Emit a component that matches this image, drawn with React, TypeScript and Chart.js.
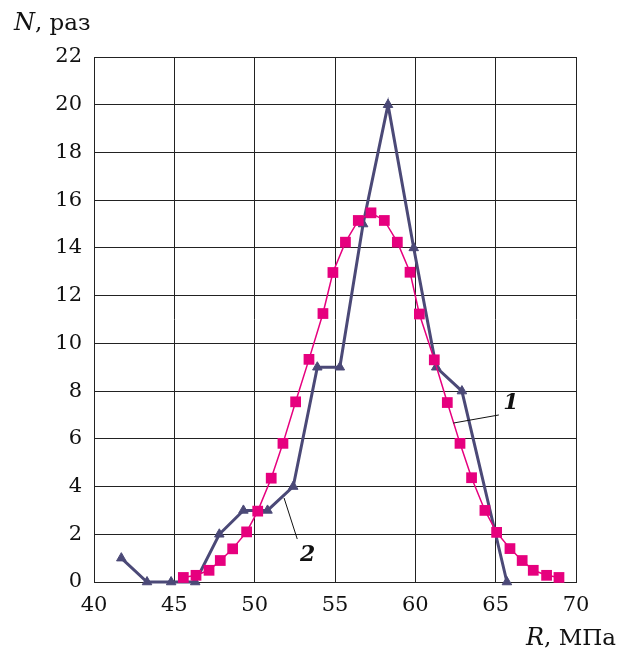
import React, { useEffect, useRef } from "react";
import { Chart, registerables } from "chart.js";

Chart.register(...registerables);

// Series 1 (triangles)
const series1X = [41.7, 43.3, 44.8, 46.3, 47.8, 49.3, 50.8, 52.4, 53.9, 55.3, 56.75, 58.3, 59.9, 61.3, 62.9, 65.7];
const series1Y = [1, 0, 0, 0, 2, 3, 3, 4, 9, 9, 15, 20, 14, 9, 8, 0];

// Series 2 (squares)
const series2X = [45.56, 46.35, 47.16, 47.86, 48.63, 49.5, 50.19, 51.03, 51.76, 52.55, 53.38, 54.25, 54.87, 55.65, 56.45, 57.24, 58.07, 58.88, 59.67, 60.25, 61.18, 61.99, 62.78, 63.5, 64.33, 65.06, 65.89, 66.65, 67.34, 68.17, 68.94];
const series2Y = [0.19, 0.28, 0.49, 0.9, 1.39, 2.1, 2.97, 4.35, 5.81, 7.55, 9.33, 11.25, 12.97, 14.24, 15.15, 15.47, 15.15, 14.24, 12.98, 11.23, 9.31, 7.52, 5.81, 4.37, 3.0, 2.08, 1.4, 0.9, 0.49, 0.28, 0.19];

// Axis ranges / ticks
const xTicks = [40, 45, 50, 55, 60, 65, 70];
const yTicks = [0, 2, 4, 6, 8, 10, 12, 14, 16, 18, 20, 22];

// Curve labels with leader lines (data coordinates)
const curveLabels = [
  { text: "1", from: [62.36, 6.66], to: [65.2, 7.0], at: [65.95, 7.5] },
  { text: "2", from: [51.83, 3.52], to: [52.65, 1.8], at: [53.3, 1.1] },
];

const SERIF = '"DejaVu Serif", serif';

const annotationPlugin = {
  id: "annotations",
  afterDatasetsDraw(chart: any) {
    const { ctx } = chart;
    const xs = chart.scales.x;
    const ys = chart.scales.y;
    ctx.save();
    ctx.strokeStyle = "#111";
    ctx.lineWidth = 1;
    ctx.fillStyle = "#111";
    ctx.font = `italic bold 22px ${SERIF}`;
    ctx.textAlign = "center";
    ctx.textBaseline = "middle";
    for (const l of curveLabels) {
      ctx.beginPath();
      ctx.moveTo(xs.getPixelForValue(l.from[0]), ys.getPixelForValue(l.from[1]));
      ctx.lineTo(xs.getPixelForValue(l.to[0]), ys.getPixelForValue(l.to[1]));
      ctx.stroke();
      ctx.fillText(l.text, xs.getPixelForValue(l.at[0]), ys.getPixelForValue(l.at[1]));
    }
    ctx.restore();
  },
  afterDraw(chart: any) {
    const { ctx, chartArea } = chart;
    ctx.save();
    ctx.fillStyle = "#111";
    ctx.textBaseline = "alphabetic";
    // Y axis title
    ctx.textAlign = "left";
    let x = chartArea.left - 80;
    const yBase = chartArea.top - 27;
    ctx.font = `italic 24px ${SERIF}`;
    ctx.fillText("N", x, yBase);
    x += ctx.measureText("N").width;
    ctx.font = `23px ${SERIF}`;
    ctx.fillText(", раз", x, yBase);
    // X axis title
    const rightEdge = chartArea.right + 40;
    const xBase = chartArea.bottom + 63;
    ctx.font = `23px ${SERIF}`;
    const rest = ", МПа";
    const wRest = ctx.measureText(rest).width;
    ctx.textAlign = "right";
    ctx.fillText(rest, rightEdge, xBase);
    ctx.font = `italic 24px ${SERIF}`;
    ctx.fillText("R", rightEdge - wRest, xBase);
    ctx.restore();
  },
};

export default function App() {
  const ref = useRef<HTMLCanvasElement | null>(null);

  useEffect(() => {
    document.body.style.margin = "0";
    if (!ref.current) return;
    const chart = new Chart(ref.current, {
      type: "line",
      data: {
        datasets: [
          {
            label: "2",
            data: series2X.map((x, i) => ({ x, y: series2Y[i] })),
            borderColor: "#e6007e",
            backgroundColor: "#e6007e",
            borderWidth: 1.5,
            pointStyle: "rect",
            pointRadius: 7.6,
            pointBorderWidth: 0,
            pointBackgroundColor: "#e6007e",
            clip: false as any,
            order: 0,
          },
          {
            label: "1",
            data: series1X.map((x, i) => ({ x, y: series1Y[i] })),
            borderColor: "#4b4977",
            backgroundColor: "#4b4977",
            borderWidth: 3,
            pointStyle: "triangle",
            pointRadius: 5.5,
            pointBorderWidth: 1,
            pointBackgroundColor: "#4b4977",
            clip: false as any,
            order: 1,
          },
        ],
      },
      options: {
        animation: false,
        responsive: false,
        maintainAspectRatio: false,
        layout: { padding: { top: 57, right: 49, left: 0, bottom: 0 } },
        plugins: {
          legend: { display: false },
          tooltip: { enabled: false },
          title: { display: false },
        },
        scales: {
          x: {
            type: "linear",
            min: 40,
            max: 70,
            afterFit: (s: any) => {
              s.height = 70;
            },
            afterBuildTicks: (s: any) => {
              s.ticks = xTicks.map((v) => ({ value: v }));
            },
            grid: { color: "#222", lineWidth: 1, drawTicks: false },
            border: { color: "#222", width: 1 },
            ticks: {
              padding: 11,
              color: "#111",
              font: { family: SERIF, size: 21 },
            },
          },
          y: {
            type: "linear",
            min: 0,
            max: 22,
            afterFit: (s: any) => {
              s.width = 94;
            },
            afterBuildTicks: (s: any) => {
              s.ticks = yTicks.map((v) => ({ value: v }));
            },
            grid: { color: "#222", lineWidth: 1, drawTicks: false },
            border: { color: "#222", width: 1 },
            ticks: {
              padding: 12,
              color: "#111",
              font: { family: SERIF, size: 21 },
            },
          },
        },
      },
      plugins: [annotationPlugin],
    });
    return () => chart.destroy();
  }, []);

  return (
    <div style={{ width: 625, height: 652 }}>
      <canvas ref={ref} width={625} height={652} style={{ display: "block" }} />
    </div>
  );
}
